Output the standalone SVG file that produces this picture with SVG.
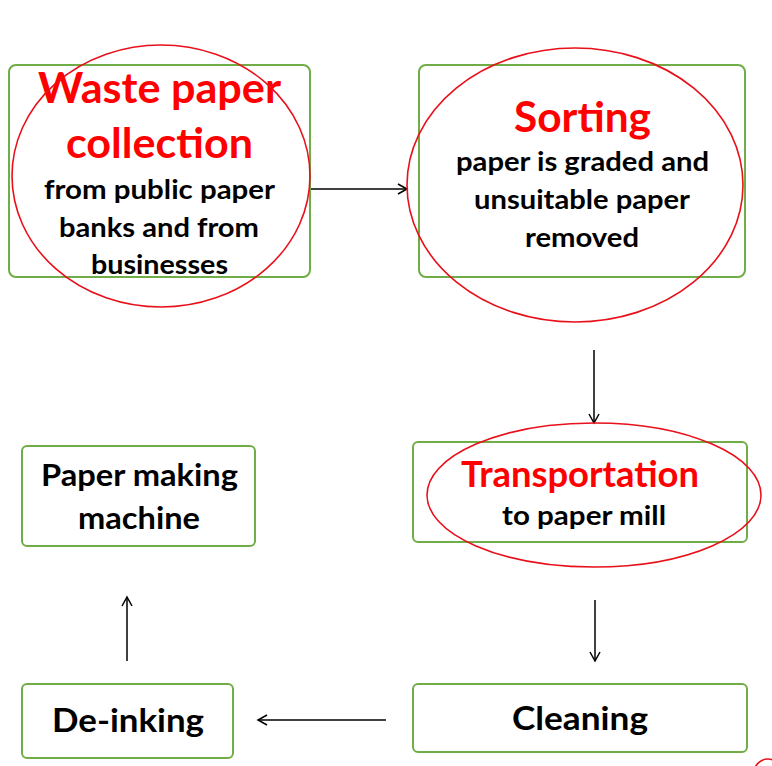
<svg xmlns="http://www.w3.org/2000/svg" width="772" height="766" viewBox="0 0 772 766">
<style>
.box{fill:#fff;stroke:#70AD47;stroke-width:2}
.ring{fill:none;stroke:#E8101A;stroke-width:1.6}
.t{font-family:Lato,"Open Sans",sans-serif;font-weight:bold;text-anchor:middle}
.r{fill:#FF0000}
.k{fill:#000}
.c{stroke:#000;stroke-width:1.5;fill:none}
</style>
<defs>
<marker id="ah" markerWidth="12" markerHeight="12" refX="10" refY="6" orient="auto" markerUnits="userSpaceOnUse">
<path d="M1,1 L10,6 L1,11" fill="none" stroke="#000" stroke-width="1.5"/>
</marker>
</defs>
<rect width="772" height="766" fill="#fff"/>
<g id="connectors">
<line class="c" x1="311" y1="189" x2="407" y2="189" marker-end="url(#ah)"/>
<line class="c" x1="594" y1="350" x2="594" y2="423" marker-end="url(#ah)"/>
<line class="c" x1="595" y1="600" x2="595" y2="661" marker-end="url(#ah)"/>
<line class="c" x1="386" y1="720" x2="258" y2="720" marker-end="url(#ah)"/>
<line class="c" x1="127" y1="661" x2="127" y2="597" marker-end="url(#ah)"/>
</g>
<g id="waste">
<rect class="box" x="9" y="65" width="301" height="212" rx="7"/>
<text class="t r" x="159.5" y="103" font-size="42" textLength="243" lengthAdjust="spacingAndGlyphs">Waste paper</text>
<text class="t r" x="159.5" y="158" font-size="42" textLength="187" lengthAdjust="spacingAndGlyphs">collection</text>
<text class="t k" x="159.5" y="199" font-size="27" textLength="231" lengthAdjust="spacingAndGlyphs">from public paper</text>
<text class="t k" x="159" y="237" font-size="27" textLength="200" lengthAdjust="spacingAndGlyphs">banks and from</text>
<text class="t k" x="159.5" y="274" font-size="27" textLength="137" lengthAdjust="spacingAndGlyphs">businesses</text>
<ellipse class="ring" cx="161" cy="176" rx="149" ry="131"/>
</g>
<g id="sorting">
<rect class="box" x="419" y="65" width="326" height="212" rx="7"/>
<text class="t r" x="582.5" y="132" font-size="42" textLength="137" lengthAdjust="spacingAndGlyphs">Sorting</text>
<text class="t k" x="582.5" y="171" font-size="27" textLength="253" lengthAdjust="spacingAndGlyphs">paper is graded and</text>
<text class="t k" x="582" y="209" font-size="27" textLength="216" lengthAdjust="spacingAndGlyphs">unsuitable paper</text>
<text class="t k" x="582" y="247" font-size="27" textLength="114" lengthAdjust="spacingAndGlyphs">removed</text>
<ellipse class="ring" cx="575" cy="185" rx="168" ry="137"/>
</g>
<g id="transport">
<rect class="box" x="413" y="442" width="334" height="100" rx="5"/>
<text class="t r" x="580" y="487" font-size="36" textLength="238" lengthAdjust="spacingAndGlyphs">Transportation</text>
<text class="t k" x="584" y="525" font-size="27" textLength="164" lengthAdjust="spacingAndGlyphs">to paper mill</text>
<ellipse class="ring" cx="594" cy="495" rx="167" ry="72"/>
</g>
<g id="papermaking">
<rect class="box" x="22" y="446" width="233" height="100" rx="5"/>
<text class="t k" x="139.5" y="486" font-size="30" textLength="197" lengthAdjust="spacingAndGlyphs">Paper making</text>
<text class="t k" x="139" y="529" font-size="30" textLength="122" lengthAdjust="spacingAndGlyphs">machine</text>
</g>
<g id="cleaning">
<rect class="box" x="413" y="684" width="334" height="68" rx="5"/>
<text class="t k" x="580" y="730" font-size="32" textLength="136" lengthAdjust="spacingAndGlyphs">Cleaning</text>
</g>
<g id="deinking">
<rect class="box" x="22" y="684" width="211" height="74" rx="5"/>
<text class="t k" x="128" y="732" font-size="32" textLength="152" lengthAdjust="spacingAndGlyphs">De-inking</text>
</g>
<circle class="ring" cx="768" cy="773" r="14" stroke-width="2"/>
</svg>
